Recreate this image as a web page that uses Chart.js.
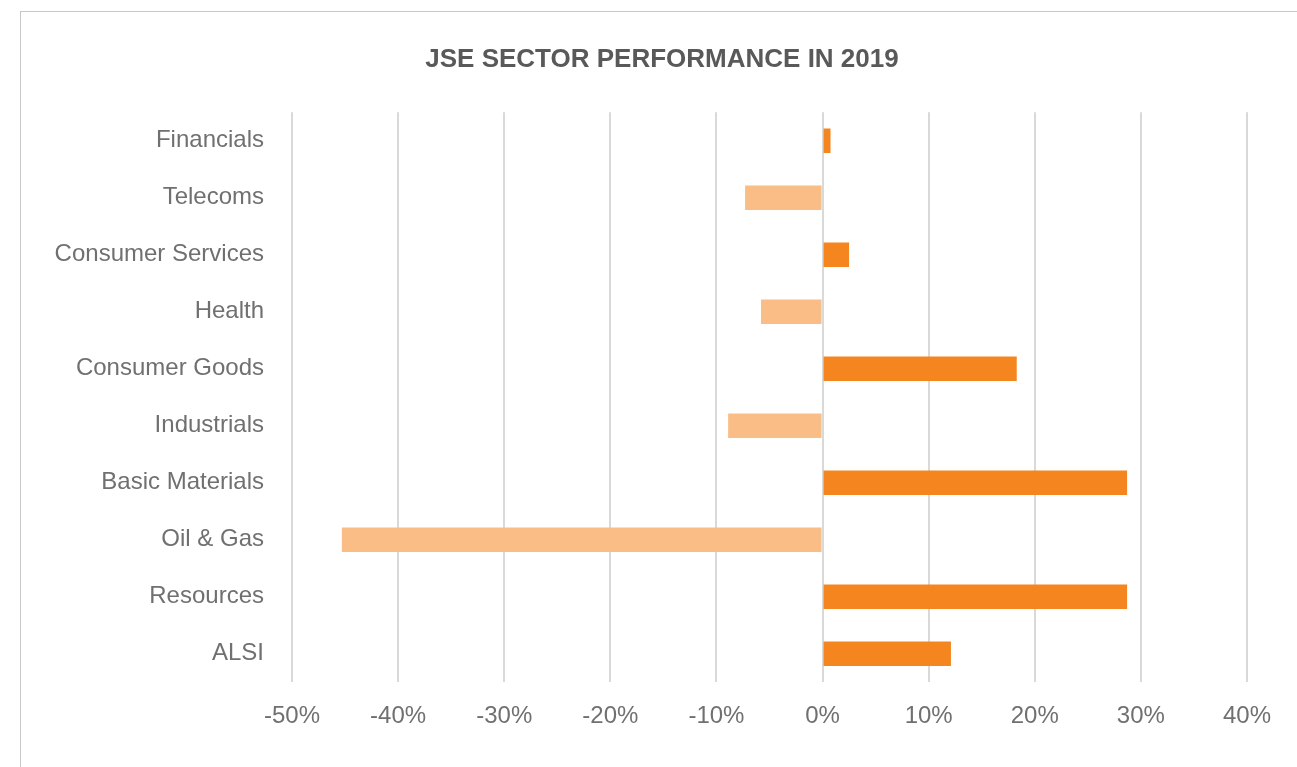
<!DOCTYPE html>
<html>
<head>
<meta charset="utf-8">
<script src="https://cdn.jsdelivr.net/npm/chart.js@4"></script>
<style>
  html, body { margin: 0; padding: 0; background: #fff; overflow: hidden; }
  #wrap { position: relative; width: 1297px; height: 767px; }
  #frame { position: absolute; left: 20px; top: 11px; width: 1400px; height: 900px; border: 1px solid #c8c8c8; }
  canvas { position: absolute; left: 0; top: 0; }
</style>
</head>
<body>
<div id="wrap">
  <div id="frame"></div>
  <canvas id="chart" width="1297" height="767"></canvas>
</div>
<script>
let sectors = ["Financials", "Telecoms", "Consumer Services", "Health", "Consumer Goods",
               "Industrials", "Basic Materials", "Oil & Gas", "Resources", "ALSI"];
let performance = [0.75, -7.3, 2.5, -5.8, 18.3, -8.9, 28.7, -45.3, 28.7, 12.1];
let xTicks = [-50, -40, -30, -20, -10, 0, 10, 20, 30, 40];

let upColor = "#F5861F";
let downColor = "#FABD86";

var ctx = document.getElementById("chart");
var chart = new Chart(ctx, {
    type: "bar",
    data: {
        labels: sectors,
        datasets: [{
            data: performance,
            backgroundColor: performance.map(x => x >= 0 ? upColor : downColor),
            borderWidth: 0,
            barPercentage: 0.43,
            categoryPercentage: 1
        }]
    },
    options: {
        indexAxis: "y",
        responsive: false,
        animation: false,
        layout: { padding: { left: 27, right: 0, top: 0, bottom: 16 } },
        plugins: {
            legend: { display: false },
            tooltip: { enabled: false },
            title: {
                display: true,
                text: "JSE SECTOR PERFORMANCE IN 2019",
                color: "#595959",
                font: { family: "Liberation Sans", size: 26, weight: "bold" },
                padding: { top: 44, bottom: 37 }
            }
        },
        scales: {
            x: {
                min: xTicks[0],
                max: xTicks[xTicks.length - 1],
                afterBuildTicks: s => { s.ticks = xTicks.map(v => ({ value: v })); },
                grid: { color: "#d9d9d9", lineWidth: 2, drawTicks: false },
                border: { display: false },
                ticks: {
                    padding: 20,
                    color: "#707070",
                    font: { family: "Liberation Sans", size: 24 },
                    callback: v => v + "%"
                }
            },
            y: {
                afterFit: s => { s.width = 265; },
                grid: { display: false, drawTicks: false },
                border: { display: false },
                ticks: {
                    padding: 28,
                    color: "#707070",
                    font: { family: "Liberation Sans", size: 24 }
                }
            },
            // empty right-hand gutter so the plot stops at 40%
            gutter: {
                type: "linear",
                axis: "y",
                position: "right",
                grid: { display: false, drawTicks: false },
                border: { display: false },
                ticks: { display: false },
                afterFit: s => { s.width = 50; }
            }
        }
    }
});
</script>
</body>
</html>
